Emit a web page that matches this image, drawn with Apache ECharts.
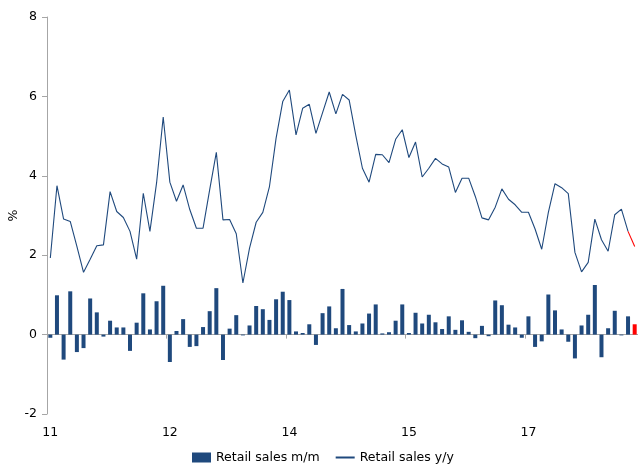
<!DOCTYPE html>
<html>
<head>
<meta charset="utf-8">
<script src="https://cdn.jsdelivr.net/npm/echarts@6/dist/echarts.min.js"></script>
<style>
  html, body { margin: 0; padding: 0; background: #fff; }
  #chart { width: 638px; height: 466px; }
</style>
</head>
<body>
<div id="chart"></div>
<script>
// Monthly categories, Jan 2011 to May 2018
const startYear = 2011;
const monthCount = 89;
const months = [];
for (let k = 0; k < monthCount; k++) {
  const y = startYear + Math.floor(k / 12);
  const m = (k % 12) + 1;
  months.push(y + '-' + (m < 10 ? '0' + m : m));
}

// Retail sales, month-on-month change (%)
const salesMoM = [
  -0.08, 0.99, -0.63, 1.09, -0.44, -0.34, 0.91, 0.56, -0.05, 0.35, 0.18, 0.18,
  -0.41, 0.30, 1.04, 0.13, 0.84, 1.23, -0.69, 0.09, 0.39, -0.31, -0.29, 0.19,
  0.59, 1.17, -0.64, 0.15, 0.49, -0.02, 0.23, 0.72, 0.64, 0.37, 0.89, 1.08,
  0.87, 0.08, 0.04, 0.26, -0.26, 0.54, 0.71, 0.16, 1.15, 0.24, 0.08, 0.28,
  0.53, 0.76, 0.03, 0.06, 0.35, 0.76, 0.04, 0.55, 0.28, 0.50, 0.31, 0.14,
  0.46, 0.12, 0.36, 0.07, -0.09, 0.22, -0.04, 0.86, 0.74, 0.25, 0.18, -0.08,
  0.46, -0.31, -0.17, 1.01, 0.61, 0.13, -0.18, -0.60, 0.23, 0.50, 1.25, -0.57,
  0.16, 0.60, -0.02, 0.46, 0.26
];

// Retail sales, year-on-year change (%)
const salesYoY = [
  1.93, 3.75, 2.91, 2.85, 2.22, 1.57, 1.90, 2.24, 2.26, 3.60, 3.10, 2.95,
  2.60, 1.90, 3.56, 2.60, 3.82, 5.48, 3.84, 3.36, 3.77, 3.15, 2.68, 2.68,
  3.65, 4.59, 2.89, 2.90, 2.54, 1.30, 2.18, 2.83, 3.08, 3.73, 4.95, 5.87,
  6.16, 5.03, 5.70, 5.80, 5.07, 5.59, 6.11, 5.56, 6.05, 5.91, 5.02, 4.19,
  3.84, 4.54, 4.53, 4.33, 4.92, 5.16, 4.46, 4.85, 3.97, 4.19, 4.44, 4.30,
  4.22, 3.58, 3.94, 3.94, 3.48, 2.94, 2.89, 3.21, 3.67, 3.41, 3.27, 3.08,
  3.08, 2.66, 2.15, 3.08, 3.80, 3.70, 3.55, 2.07, 1.58, 1.82, 2.91, 2.39,
  2.10, 3.02, 3.16, 2.60, 2.22
];

// Y axis ticks
const yMin = -2, yMax = 8, yStep = 2;

const BLUE = '#1F497D';
const RED = '#FF0000';
const AXIS_GREY = '#A6A6A6';
const FONT = 'DejaVu Sans';

const last = monthCount - 1;

// Bars: latest month highlighted in red
const barData = salesMoM.map((v, i) =>
  i === last ? { value: v, itemStyle: { color: RED } } : v);

// Line: history in blue, the latest segment in red
const lineMain = salesYoY.map((v, i) => (i < last ? v : null));
const lineLatest = salesYoY.map((v, i) => (i >= last - 1 ? v : null));

const chart = echarts.init(document.getElementById('chart'), null, { renderer: 'canvas' });

chart.setOption({
  animation: false,
  textStyle: { fontFamily: FONT },
  grid: { left: 47, right: 0, top: 17, bottom: 52, containLabel: false, outerBoundsMode: 'none' },
  legend: {
    left: 192,
    top: 451,
    padding: 0,
    itemGap: 15,
    itemWidth: 19,
    itemHeight: 10,
    textStyle: { fontFamily: FONT, fontSize: 12.5, color: '#000' },
    data: [
      { name: 'Retail sales m/m', icon: 'rect' },
      { name: 'Retail sales y/y', itemStyle: { color: 'rgba(0,0,0,0)', borderWidth: 0, opacity: 0 } }
    ]
  },
  xAxis: [
    {
      type: 'category',
      data: months,
      boundaryGap: true,
      position: 'bottom',
      axisLine: { show: false, onZero: false },
      axisTick: { show: false },
      axisLabel: {
        interval: 17,
        margin: 12,
        fontFamily: FONT,
        fontSize: 12.5,
        color: '#000',
        formatter: (v) => v.slice(2, 4)
      },
      splitLine: { show: false }
    },
    {
      // zero line with year ticks
      type: 'category',
      data: months,
      boundaryGap: true,
      position: 'bottom',
      axisLine: { show: true, onZero: true, onZeroAxisIndex: 0, lineStyle: { color: AXIS_GREY, width: 1 } },
      axisTick: { show: true, interval: 17, length: 4, lineStyle: { color: AXIS_GREY } },
      axisLabel: { show: false },
      splitLine: { show: false }
    }
  ],
  yAxis: {
    type: 'value',
    min: yMin,
    max: yMax,
    interval: yStep,
    name: '%',
    nameLocation: 'middle',
    nameGap: 27,
    nameMoveOverlap: false,
    nameTextStyle: { fontFamily: FONT, fontSize: 12.5, color: '#000' },
    axisLine: { show: true, lineStyle: { color: AXIS_GREY, width: 1 } },
    axisTick: { show: true, length: 5, lineStyle: { color: AXIS_GREY } },
    axisLabel: { margin: 10, fontFamily: FONT, fontSize: 12.5, color: '#000' },
    splitLine: { show: false }
  },
  series: [
    {
      name: 'Retail sales m/m',
      type: 'bar',
      xAxisIndex: 0,
      data: barData,
      barWidth: 4,
      itemStyle: { color: BLUE },
      z: 2
    },
    {
      name: 'Retail sales y/y',
      type: 'line',
      xAxisIndex: 0,
      data: lineMain,
      symbol: 'none',
      lineStyle: { color: BLUE, width: 1.1 },
      itemStyle: { color: BLUE },
      z: 3
    },
    {
      name: 'Retail sales y/y (latest)',
      type: 'line',
      xAxisIndex: 0,
      data: lineLatest,
      symbol: 'none',
      lineStyle: { color: RED, width: 1.1 },
      itemStyle: { color: RED },
      z: 3
    }
  ]
});
</script>
</body>
</html>
